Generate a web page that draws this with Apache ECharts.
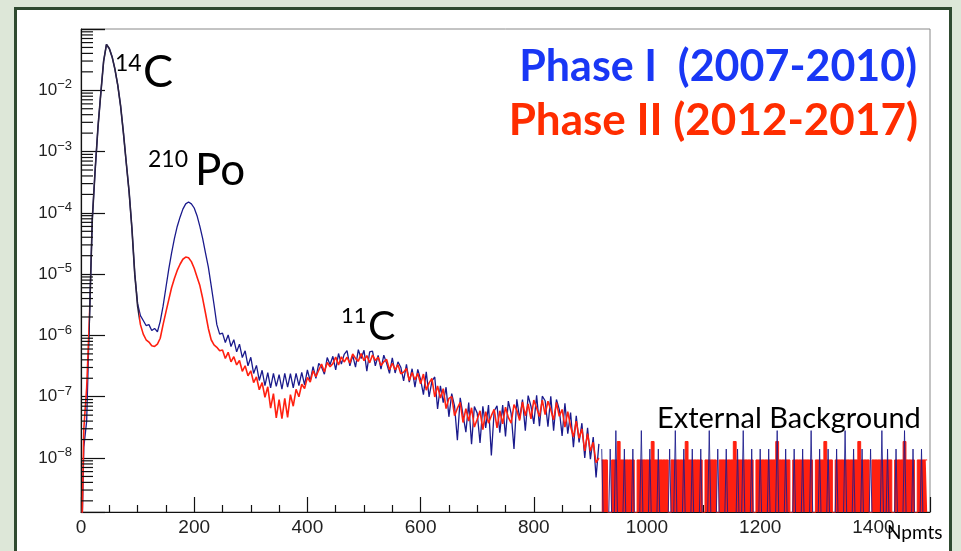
<!DOCTYPE html>
<html><head><meta charset="utf-8">
<script src="https://cdn.jsdelivr.net/npm/echarts@6/dist/echarts.min.js"></script>
<style>html,body{margin:0;padding:0;background:#dde7d8;} #c{width:961px;height:551px;}</style>
</head><body><div id="c"></div>
<script>
// ---- data ----
const binWidth = 5;            // Npmts per bin
const emptyBin = 1e-10;        // empty bin -> below the visible range
// Phase I, bins 0..915
const phase1Main = [
 1e-10,1.5e-8,4e-8,2e-6,8e-5,5e-4,2.5e-3,9e-3,3e-2,5.6e-2,
 4.8e-2,3.5e-2,2.2e-2,1.2e-2,5.5e-3,2e-3,6.5e-4,2.2e-4,5.5e-5,1e-5,
 3.3e-6,2.1e-6,1.75e-6,1.45e-6,1.5e-6,1.2e-6,1.3e-6,1.15e-6,1.7e-6,3e-6,
 6e-6,1.2e-5,2.2e-5,3.8e-5,6e-5,8.5e-5,1.15e-4,1.4e-4,1.5e-4,1.4e-4,
 1.2e-4,9e-5,6e-5,3.8e-5,2.2e-5,1.3e-5,6.5e-6,3.2e-6,1.5e-6,1.05e-6,
 1.09e-6,7.65e-7,1.02e-6,6.6e-7,8.5e-7,5.4e-7,7.2e-7,4.35e-7,5.6e-7,3.2e-7,
 4.4e-7,2.4e-7,3.25e-7,1.84e-7,2.7e-7,1.52e-7,2.47e-7,1.4e-7,2.4e-7,1.48e-7,
 2.3e-7,1.33e-7,2.4e-7,1.44e-7,2.37e-7,1.39e-7,2.4e-7,1.52e-7,2.5e-7,1.56e-7,
 2.73e-7,1.8e-7,3.1e-7,2e-7,3.5e-7,3.05e-7,2.33e-7,4.36e-7,3.33e-7,4.56e-7,
 2.74e-7,5.07e-7,3.4e-7,4.92e-7,5.67e-7,3.19e-7,4.73e-7,3.05e-7,5.85e-7,4.18e-7,
 5.72e-7,2.61e-7,5.38e-7,5.54e-7,3.2e-7,4.74e-7,2.81e-7,4.75e-7,3.5e-7,2.41e-7,
 4.32e-7,2.44e-7,3.71e-7,3.03e-7,1.82e-7,3.38e-7,1.73e-7,2.86e-7,1.43e-7,2.8e-7,
 1.9e-7,1.08e-7,2.55e-7,9.9e-8,1.8e-7,2.1e-7,6.3e-8,1.51e-7,8e-8,1.43e-7,
 4.7e-8,1.12e-7,7e-8,1.95e-8,9.6e-8,5e-8,2.65e-8,8e-8,1.68e-8,6.9e-8,
 5.4e-8,1.76e-8,7e-8,3.1e-8,7.3e-8,1.1e-8,5.85e-8,7.1e-8,2.6e-8,7.3e-8,
 2.25e-8,8.5e-8,5.3e-8,1.4e-8,9.1e-8,4.4e-8,9e-8,2.8e-8,1.04e-7,7e-8,
 3.6e-8,1.05e-7,3.3e-8,1.02e-7,8.6e-8,3.25e-8,1.02e-7,2.8e-8,9e-8,6.2e-8,
 2.3e-8,7.8e-8,2.5e-8,5.5e-8,1.5e-8,4.9e-8,1.8e-8,3.7e-8,1e-8,3.1e-8,
 9.6e-9,2.2e-8,4.8e-9,1.7e-8
];
// Phase II, bins 0..915
const phase2Main = [
 1e-10,3e-8,1.4e-7,2e-6,8e-5,5e-4,2.5e-3,9e-3,3e-2,5.6e-2,
 4.8e-2,3.5e-2,2.2e-2,1.2e-2,5.5e-3,2e-3,6.5e-4,2.2e-4,5.5e-5,1e-5,
 3e-6,1.5e-6,1.05e-6,8.5e-7,7.8e-7,6.8e-7,6.6e-7,7.2e-7,9e-7,1.5e-6,
 2.4e-6,3.8e-6,6e-6,8.5e-6,1.15e-5,1.45e-5,1.75e-5,1.9e-5,1.85e-5,1.6e-5,
 1.25e-5,9e-6,6.5e-6,4e-6,2.3e-6,1.3e-6,8.5e-7,7e-7,6.4e-7,5.6e-7,
 5.8e-7,4.2e-7,5.3e-7,3.7e-7,4.5e-7,3.3e-7,3.9e-7,2.6e-7,3.2e-7,2.2e-7,
 2.65e-7,1.7e-7,2.1e-7,1.3e-7,1.7e-7,9.8e-8,1.45e-7,6.5e-8,1.12e-7,4.5e-8,
 9e-8,4.4e-8,9.4e-8,4.6e-8,1.08e-7,7e-8,1.32e-7,1e-7,1.6e-7,1.36e-7,
 2.07e-7,1.74e-7,2.65e-7,2.12e-7,2.7e-7,3.42e-7,2.54e-7,3.63e-7,3.08e-7,3.47e-7,
 4.45e-7,3.28e-7,4.48e-7,3.69e-7,4.41e-7,3.53e-7,4.99e-7,4.22e-7,3.78e-7,5.06e-7,
 3.87e-7,4.7e-7,3.57e-7,4.79e-7,3.9e-7,4.42e-7,3.23e-7,3.72e-7,4.06e-7,2.75e-7,
 3.52e-7,2.75e-7,3.34e-7,2.37e-7,2.52e-7,2.89e-7,1.84e-7,2.49e-7,1.89e-7,2.4e-7,
 1.62e-7,2.34e-7,1.28e-7,1.68e-7,1.98e-7,9.9e-8,1.5e-7,9.5e-8,1.35e-7,6.4e-8,
 9.4e-8,1e-7,4.9e-8,6.5e-8,8.1e-8,3.8e-8,6.4e-8,4e-8,6.6e-8,3.2e-8,
 4.3e-8,5.9e-8,2.9e-8,5.7e-8,3.7e-8,4.9e-8,6.2e-8,3.1e-8,5.9e-8,3.6e-8,
 6.75e-8,4.6e-8,3.7e-8,7.4e-8,6e-8,4.1e-8,8.2e-8,4.9e-8,7.6e-8,4.35e-8,
 8.8e-8,6.55e-8,4.75e-8,8.8e-8,5.1e-8,8.45e-8,6.1e-8,4.2e-8,8.1e-8,4.8e-8,
 6.2e-8,3.2e-8,5.7e-8,3.3e-8,2.2e-8,4e-8,2.1e-8,3e-8,1.3e-8,2.5e-8,
 1.3e-8,1.8e-8,8.4e-9,1e-8
];
// External-background tail: counts per bin from 920 to 1495
const tailStart = 920;
const phase1TailCounts = [
 1,0,0,1,0,2,0,0,1,0, 0,1,0,0,2,0,0,1,0,0, 1,0,0,0,1,0,2,0,0,1, 0,0,1,0,0,1,0,0,2,0,
 0,1,0,0,1,0,0,0,1,0, 2,0,0,1,0,0,1,0,0,1, 0,0,2,0,0,1,0,0,1,0, 0,1,0,0,2,0,0,1,0,0,
 1,0,0,1,0,0,2,0,0,1, 0,0,1,0,0,1,0,0,0,2, 0,1,0,0,1,0,0,2,0,0, 1,0,0,1,0,0
];
const phase2TailCounts = [
 1,1,1,0,1,1,2,1,1,1, 1,1,0,1,1,1,1,1,2,1, 1,1,1,1,0,1,1,1,1,1, 2,1,1,1,1,1,0,1,1,1,
 1,0,1,1,1,1,1,2,1,1, 1,1,1,1,0,1,1,1,1,1, 1,1,2,1,1,1,1,0,1,1, 1,1,1,1,1,0,1,1,1,2,
 1,1,0,1,1,1,1,1,1,1, 1,2,1,1,1,0,1,1,1,1, 1,1,1,0,1,1,1,2,1,1, 1,0,1,1,1,1
];
const phase1CountValue = 1.4e-8;
const phase2CountValue = 9.3e-9;
const xTickLabels = [0, 200, 400, 600, 800, 1000, 1200, 1400];

// ---- build series data ----
const mainPts = arr => arr.map((v, i) => [i * binWidth, v]);
const tailPts = (counts, unit) => counts.map((c, i) => [tailStart + i * binWidth, c > 0 ? c * unit : emptyBin]);
const yMin = 1.315e-9, yMax = 0.1;
const yMinor = [];
for (let e = -9; e <= -2; e++) for (let m = 2; m <= 9; m++) { const v = m * Math.pow(10, e); if (v > yMin && v < yMax) yMinor.push([0, v]); }

const BLUE = '#1a1a8c', RED = '#ff2010', TXT = '#222';
const chart = echarts.init(document.getElementById('c'));
chart.setOption({
  animation: false,
  grid: { left: 81, right: 31, top: 29, bottom: 39, show: true, borderColor: '#888', borderWidth: 1, backgroundColor: 'transparent' },
  xAxis: {
    type: 'value', min: 0, max: 1500, interval: 200,
    axisLine: { show: true, onZero: false, lineStyle: { color: '#111', width: 1.2 } },
    axisTick: { show: true, inside: true, length: 15, lineStyle: { color: '#111', width: 1.2 } },
    minorTick: { show: true, splitNumber: 4, length: 7, lineStyle: { color: '#111', width: 1.2 } },
    splitLine: { show: false },
    axisLabel: { margin: 6, fontSize: 19, fontFamily: 'Liberation Sans', color: TXT,
      formatter: v => xTickLabels.indexOf(v) >= 0 ? String(v) : '' }
  },
  yAxis: {
    type: 'log', logBase: 10, min: yMin, max: yMax, splitNumber: 8,
    axisLine: { show: true, lineStyle: { color: '#111', width: 1.2 } },
    axisTick: { show: true, inside: true, length: 24, lineStyle: { color: '#111', width: 1.2 } },
    splitLine: { show: false },
    axisLabel: {
      margin: 9,
      formatter: v => { const l = Math.log10(v), e = Math.round(l); if (Math.abs(l - e) > 0.01 || e > -2) return ''; return '{b|10}{s|\u2212' + (-e) + '}'; },
      rich: {
        b: { fontSize: 17, fontFamily: 'Liberation Sans', color: TXT, lineHeight: 24, verticalAlign: 'middle' },
        s: { fontSize: 13, fontFamily: 'Liberation Sans', color: TXT, lineHeight: 15, verticalAlign: 'top' }
      }
    }
  },
  visualMap: { show: false, type: 'piecewise', seriesIndex: 1, dimension: 0,
    pieces: [{ lt: 14, color: RED }, { gte: 14, lt: 102, color: '#2c2440' }, { gte: 102, color: RED }] },
  series: [
    { type: 'line', data: mainPts(phase1Main), showSymbol: false, lineStyle: { color: BLUE, width: 1.3 }, itemStyle: { color: BLUE }, z: 2 },
    { type: 'line', data: mainPts(phase2Main), showSymbol: false, lineStyle: { width: 1.6 }, z: 3 },
    { type: 'line', data: tailPts(phase2TailCounts, phase2CountValue), step: 'middle', showSymbol: false, lineStyle: { color: RED, width: 1 }, itemStyle: { color: RED }, areaStyle: { color: RED, opacity: 1, origin: 'start' }, z: 3 },
    { type: 'line', data: tailPts(phase1TailCounts, phase1CountValue), showSymbol: false, lineStyle: { color: BLUE, width: 1, opacity: 0.85 }, itemStyle: { color: BLUE }, z: 4 },
    { type: 'custom', coordinateSystem: 'cartesian2d', data: yMinor, silent: true, z: 6, clip: false,
      renderItem: (params, api) => { const p = api.coord([0, api.value(1)]); return { type: 'line', shape: { x1: p[0], y1: p[1], x2: p[0] + 12, y2: p[1] }, style: { stroke: '#111', lineWidth: 1.2 } }; } }
  ],
  graphic: [
    { type: 'rect', z: -20, silent: true, shape: { x: 0, y: 0, width: 961, height: 551 }, style: { fill: '#dde7d8' } },
    { type: 'rect', z: -19, silent: true, shape: { x: 15.5, y: 8.5, width: 935, height: 560 }, style: { fill: '#ffffff', stroke: '#2f4a30', lineWidth: 3 } },
    { type: 'text', z: 50, x: 115, y: 64, style: { text: '14', font: '23px Lato', fill: '#000', verticalAlign: 'middle', textVerticalAlign: 'middle' } },
    { type: 'text', z: 50, x: 143, y: 72, style: { text: 'C', font: '45px Lato', fill: '#000', verticalAlign: 'middle', textVerticalAlign: 'middle' } },
    { type: 'text', z: 50, x: 148, y: 160, style: { text: '210', font: '23px Lato', fill: '#000', verticalAlign: 'middle', textVerticalAlign: 'middle' } },
    { type: 'text', z: 50, x: 195, y: 171, style: { text: 'Po', font: '44px Lato', fill: '#000', verticalAlign: 'middle', textVerticalAlign: 'middle' } },
    { type: 'text', z: 50, x: 341, y: 316, style: { text: '11', font: '22px Lato', fill: '#000', verticalAlign: 'middle', textVerticalAlign: 'middle' } },
    { type: 'text', z: 50, x: 368, y: 327, style: { text: 'C', font: '41px Lato', fill: '#000', verticalAlign: 'middle', textVerticalAlign: 'middle' } },
    { type: 'text', z: 50, x: 657, y: 419, style: { text: 'External Background', font: '29px Lato', fill: '#000', verticalAlign: 'middle', textVerticalAlign: 'middle' } },
    { type: 'text', z: 50, x: 917, y: 67, style: { text: 'Phase I  (2007-2010)', font: 'bold 43px Lato', fill: '#1937f5', align: 'right', textAlign: 'right', verticalAlign: 'middle', textVerticalAlign: 'middle' } },
    { type: 'text', z: 50, x: 918, y: 121, style: { text: 'Phase II (2012-2017)', font: 'bold 44px Lato', fill: '#ff2d00', align: 'right', textAlign: 'right', verticalAlign: 'middle', textVerticalAlign: 'middle' } },
    { type: 'text', z: 50, x: 887, y: 533, style: { text: 'Npmts', font: '19px Lato', fill: '#000', verticalAlign: 'middle', textVerticalAlign: 'middle' } }
  ]
});
</script></body></html>
